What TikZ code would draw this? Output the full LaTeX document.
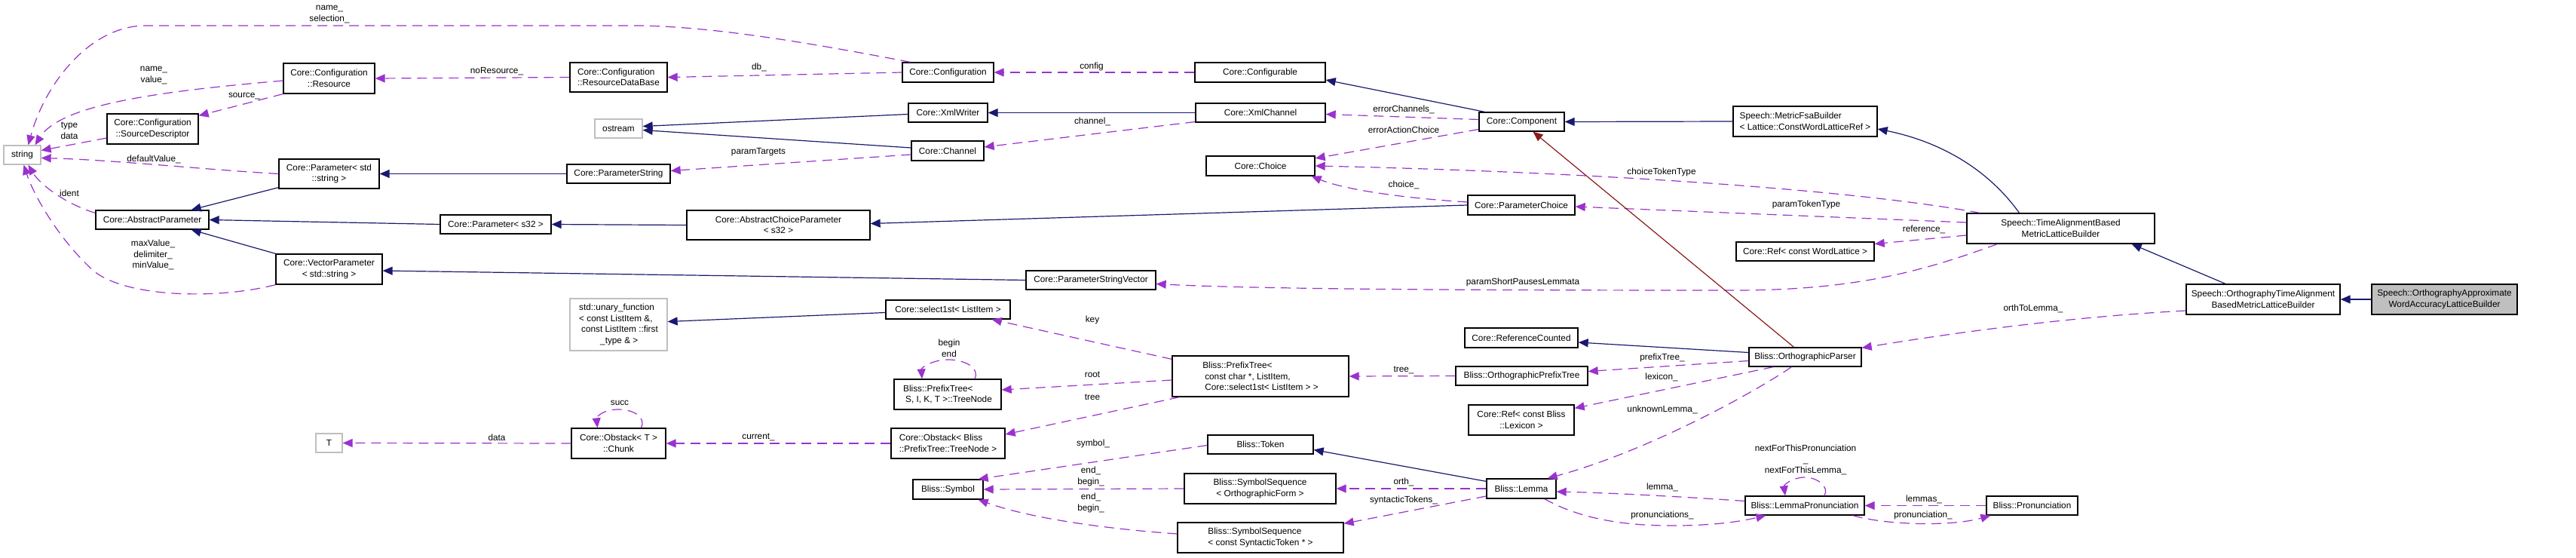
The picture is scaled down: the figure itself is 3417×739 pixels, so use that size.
\documentclass[tikz,border=0pt]{standalone}
\usepackage{fontspec}
\setmainfont{Liberation Sans}
\usetikzlibrary{arrows.meta,calc}
\definecolor{usecol}{HTML}{9A32CD}
\definecolor{inhcol}{HTML}{191970}
\definecolor{privcol}{HTML}{8B1A1A}
\definecolor{extcol}{HTML}{BFBFBF}

\begin{document}
\begin{tikzpicture}[x=1pt, y=-1pt,
  every node/.style={font=\fontsize{11.8}{14.5}\selectfont},
  cls/.style={draw=black, line width=1.3pt, fill=white, inner sep=1pt,
              minimum height=25pt, align=center},
  ext/.style={cls, draw=extcol},
  cur/.style={cls, fill=extcol},
  lbl/.style={inner sep=0pt, align=center},
  usage/.style={usecol, line width=1.2pt, dash pattern=on 13pt off 8pt,
                -{Triangle[length=13pt,width=11pt]}},
  inh/.style={inhcol, line width=1.2pt, -{Triangle[length=13pt,width=11pt]}},
  priv/.style={privcol, line width=1.2pt, -{Triangle[length=13pt,width=11pt]}}
]
  \useasboundingbox (0,0) rectangle (3417,739);

  % classes
  \node[ext, minimum width=49pt] (str) at (29.5,205.5) {string};
  \node[cls, minimum width=121pt, minimum height=40pt] (res) at (436.5,104) {Core::Configuration\\::Resource};
  \node[cls, minimum width=121pt, minimum height=40pt] (srcd) at (202.5,171) {Core::Configuration\\::SourceDescriptor};
  \node[cls, minimum width=133pt, minimum height=39pt] (pstd) at (436.5,230.5) {Core::Parameter< std\\::string >};
  \node[cls, minimum width=150pt] (absp) at (202,291.5) {Core::AbstractParameter};
  \node[cls, minimum width=141pt, minimum height=40pt] (vecp) at (436.5,357) {Core::VectorParameter\\< std::string >};
  \node[ext, minimum width=35pt] (tpar) at (436.5,587.5) {T};
  \node[cls, minimum width=129pt, minimum height=39pt, align=left] (rdb) at (820.5,102.5) {Core::Configuration\\::ResourceDataBase};
  \node[ext, minimum width=63pt] (ostr) at (820.5,170.5) {ostream};
  \node[cls, minimum width=137pt] (pstr) at (820.5,230.5) {Core::ParameterString};
  \node[cls, minimum width=147pt] (ps32) at (657.5,297.5) {Core::Parameter< s32 >};
  \node[cls, minimum width=243pt, minimum height=39pt] (acp) at (1032.5,298.5) {Core::AbstractChoiceParameter\\< s32 >};
  \node[ext, minimum width=129pt, minimum height=69pt, align=left] (unary) at (820.5,430.5) {std::unary\_function\\< const ListItem \&,\\\hspace*{3pt}const ListItem ::first\\\hspace*{28pt}\_type \& >};
  \node[cls, minimum width=125pt, minimum height=40pt] (chunk) at (820.5,588) {Core::Obstack< T >\\::Chunk};
  \node[cls, minimum width=121pt, minimum height=26pt] (conf) at (1257.5,96) {Core::Configuration};
  \node[cls, minimum width=105pt] (xmlw) at (1257.5,149.5) {Core::XmlWriter};
  \node[cls, minimum width=96pt, minimum height=26pt] (chan) at (1257,200) {Core::Channel};
  \node[cls, minimum width=173pt, minimum height=26pt] (cfgbl) at (1671.5,96) {Core::Configurable};
  \node[cls, minimum width=172pt] (xch) at (1672,149.5) {Core::XmlChannel};
  \node[cls, minimum width=144pt, minimum height=26pt] (choice) at (1672,220) {Core::Choice};
  \node[cls, minimum width=172pt] (psv) at (1447,371.5) {Core::ParameterStringVector};
  \node[cls, minimum width=165pt] (sel) at (1257.5,410.5) {Core::select1st< ListItem >};
  \node[cls, minimum width=142pt, minimum height=40pt, align=left] (tnode) at (1257,523) {Bliss::PrefixTree<\\\hspace*{3pt}S, I, K, T >::TreeNode};
  \node[cls, minimum width=151pt, minimum height=40pt, align=left] (obtn) at (1257.5,588) {Core::Obstack< Bliss\\::PrefixTree::TreeNode >};
  \node[cls, minimum width=93pt, minimum height=26pt] (sym) at (1257.5,649) {Bliss::Symbol};
  \node[cls, minimum width=234pt, minimum height=54pt, align=left] (ptree) at (1672,499) {Bliss::PrefixTree<\\\hspace*{3pt}const char *, ListItem,\\\hspace*{3pt}Core::select1st< ListItem > >};
  \node[cls, minimum width=140pt] (token) at (1672,589.5) {Bliss::Token};
  \node[cls, minimum width=201pt, minimum height=40pt] (ssorth) at (1671.5,648) {Bliss::SymbolSequence\\< OrthographicForm >};
  \node[cls, minimum width=220pt, minimum height=40pt, align=left] (sssyn) at (1672,713) {Bliss::SymbolSequence\\< const SyntacticToken * >};
  \node[cls, minimum width=113pt] (comp) at (2018.5,161.5) {Core::Component};
  \node[cls, minimum width=142pt, minimum height=26pt] (pchoice) at (2018,272) {Core::ParameterChoice};
  \node[cls, minimum width=150pt, minimum height=26pt] (refc) at (2018,448) {Core::ReferenceCounted};
  \node[cls, minimum width=175pt] (optree) at (2018.5,498.5) {Bliss::OrthographicPrefixTree};
  \node[cls, minimum width=140pt, minimum height=40pt] (lexref) at (2018,557) {Core::Ref< const Bliss\\::Lexicon >};
  \node[cls, minimum width=92pt, minimum height=26pt] (lemma) at (2018,648) {Bliss::Lemma};
  \node[cls, minimum width=191pt, minimum height=40pt, align=left] (mfb) at (2394.5,161) {Speech::MetricFsaBuilder\\< Lattice::ConstWordLatticeRef >};
  \node[cls, minimum width=249pt, minimum height=40pt] (tab) at (2733.5,303) {Speech::TimeAlignmentBased\\MetricLatticeBuilder};
  \node[cls, minimum width=183pt] (wlref) at (2394.5,333.5) {Core::Ref< const WordLattice >};
  \node[cls, minimum width=149pt] (oparser) at (2394.5,473.5) {Bliss::OrthographicParser};
  \node[cls, minimum width=158pt] (lpron) at (2394,670.5) {Bliss::LemmaPronunciation};
  \node[cls, minimum width=121pt] (pron) at (2695.5,670.5) {Bliss::Pronunciation};
  \node[cls, minimum width=204pt, minimum height=40pt] (otab) at (3002,397) {Speech::OrthographyTimeAlignment\\BasedMetricLatticeBuilder};
  \node[cur, minimum width=193pt, minimum height=40pt] (otaw) at (3242.5,397) {Speech::OrthographyApproximate\\WordAccuracyLatticeBuilder};

  % member labels
  \node[lbl] (lNameSel) at (437,19) {name\_\\selection\_};
  \node[lbl] (lNameVal) at (204,100) {name\_\\value\_};
  \node[lbl] (lSource) at (324,127) {source\_};
  \node[lbl] (lTypeData) at (92,173) {type\\data};
  \node[lbl] (lDefault) at (204,211) {defaultValue\_};
  \node[lbl] (lIdent) at (92,256) {ident};
  \node[lbl] (lMinMax) at (203,338) {maxValue\_\\delimiter\_\\minValue\_};
  \node[lbl] (lNoRes) at (659,95) {noResource\_};
  \node[lbl] (lDb) at (1007,89) {db\_};
  \node[lbl] (lConfig) at (1448,88) {config};
  \node[lbl] (lChannel) at (1449,161) {channel\_};
  \node[lbl] (lTargets) at (1006,202) {paramTargets};
  \node[lbl] (lErrCh) at (1862,145) {errorChannels\_};
  \node[lbl] (lErrAct) at (1862,172) {errorActionChoice};
  \node[lbl] (lChoice) at (1862,245) {choice\_};
  \node[lbl] (lChTok) at (2204,228) {choiceTokenType};
  \node[lbl] (lParTok) at (2396,271) {paramTokenType};
  \node[lbl] (lRef) at (2552,304) {reference\_};
  \node[lbl] (lShort) at (2020,374) {paramShortPausesLemmata};
  \node[lbl] (lOrthLem) at (2697,409) {orthToLemma\_};
  \node[lbl] (lKey) at (1449,424) {key};
  \node[lbl] (lRoot) at (1449,497) {root};
  \node[lbl] (lTree) at (1449,527) {tree};
  \node[lbl] (lBegEnd) at (1259,462) {begin\\end};
  \node[lbl] (lCurrent) at (1006,580) {current\_};
  \node[lbl] (lData) at (659,580) {data};
  \node[lbl] (lSucc) at (822,534) {succ};
  \node[lbl] (lSymbol) at (1450,588) {symbol\_};
  \node[lbl] (lEndBegA) at (1447,632) {end\_\\begin\_};
  \node[lbl] (lEndBegB) at (1447,667) {end\_\\begin\_};
  \node[lbl] (lTreeB) at (1862,491) {tree\_};
  \node[lbl] (lPrefix) at (2205,474) {prefixTree\_};
  \node[lbl] (lLexicon) at (2204,500) {lexicon\_};
  \node[lbl] (lUnknown) at (2205,543) {unknownLemma\_};
  \node[lbl] (lOrth) at (1862,639) {orth\_};
  \node[lbl] (lSynt) at (1862,663) {syntacticTokens\_};
  \node[lbl] (lLemma) at (2205,646) {lemma\_};
  \node[lbl] (lProns) at (2205,683) {pronunciations\_};
  \node[lbl] (lNext) at (2395,610) {nextForThisPronunciation\\\_\\nextForThisLemma\_};
  \node[lbl] (lLemmas) at (2552,662) {lemmas\_};
  \node[lbl] (lPron) at (2551,683) {pronunciation\_};

  % usage relations
  \draw[usage] ($(conf.north west)+(11,0)$) .. controls (1100,62) and (960,36) .. (850,34)
     -- (193,34) .. controls (120,34) and (60,110) .. ($(str.north)+(8,0)$);
  \draw[usage] ($(res.west)+(0,3)$) .. controls (200,122) and (80,140) .. ($(str.north)+(17,0)$);
  \draw[usage] (res.south west) -- ($(srcd.north east)+(0,3)$);
  \draw[usage] ($(srcd.west)+(0,12)$) -- ($(str.east)+(0,-6)$);
  \draw[usage] (pstd.west) .. controls (260,224) and (150,212) .. ($(str.east)+(0,4)$);
  \draw[usage] ($(absp.west)+(0,-9)$) .. controls (80,268) and (50,240) .. ($(str.south)+(8,0)$);
  \draw[usage] (vecp.south west) .. controls (290,397) and (170,395) .. (125,360)
     .. controls (80,320) and (45,260) .. ($(str.south)+(2,0)$);
  \draw[usage] (rdb.west) -- (res.east);
  \draw[usage] (conf.west) -- (rdb.east);
  \draw[usage] (cfgbl.west) -- (conf.east);
  \draw[usage] ($(xch.west)+(0,12)$) -- ($(chan.east)+(0,-5)$);
  \draw[usage] ($(chan.west)+(0,5)$) -- ($(pstr.east)+(0,-4)$);
  \draw[usage] ($(comp.west)+(0,-3)$) -- ($(xch.east)+(0,2)$);
  \draw[usage] ($(comp.west)+(0,10)$) -- ($(choice.east)+(0,-10)$);
  \draw[usage] ($(pchoice.west)+(0,-4)$) .. controls (1850,262) and (1780,250) .. ($(choice.south east)+(-5,0)$);
  \draw[usage] ($(tab.north west)+(18,0)$) .. controls (2450,250) and (2100,228) .. (choice.east);
  \draw[usage] ($(tab.west)+(0,-8)$) -- ($(pchoice.east)+(0,2)$);
  \draw[usage] ($(tab.west)+(0,9)$) -- ($(wlref.east)+(0,-10)$);
  \draw[usage] ($(tab.south west)+(41,0)$) .. controls (2550,360) and (2460,385) .. (2300,385)
     .. controls (1900,385) and (1660,383) .. ($(psv.east)+(0,5)$);
  \draw[usage] ($(otab.west)+(0,15)$) .. controls (2750,420) and (2600,440) .. ($(oparser.north east)+(0,1)$);
  \draw[usage] ($(ptree.north west)+(0,5)$) -- ($(sel.south east)+(-25,0)$);
  \draw[usage] ($(ptree.west)+(0,5)$) -- ($(tnode.east)+(0,-6)$);
  \draw[usage] ($(ptree.south west)+(10,0)$) -- ($(obtn.east)+(0,-12)$);
  \draw[usage] ($(tnode.north)+(36,0)$) .. controls (1300,488) and (1280,477) .. (1258,477)
     .. controls (1236,477) and (1222,488) .. ($(tnode.north)+(-34,0)$);
  \draw[usage] (obtn.west) -- (chunk.east);
  \draw[usage] (chunk.west) -- (tpar.east);
  \draw[usage] ($(chunk.north)+(30,0)$) .. controls (857,555) and (843,543) .. (820,543)
     .. controls (800,543) and (791,553) .. ($(chunk.north)+(-28,0)$);
  \draw[usage] ($(token.west)+(0,1)$) -- ($(sym.north east)+(-7,0)$);
  \draw[usage] (ssorth.west) -- (sym.east);
  \draw[usage] ($(sssyn.west)+(0,-5)$) .. controls (1450,700) and (1360,685) .. ($(sym.south east)+(-7,0)$);
  \draw[usage] (optree.west) -- (ptree.east);
  \draw[usage] ($(oparser.west)+(0,5)$) -- ($(optree.east)+(0,-6)$);
  \draw[usage] ($(oparser.south west)+(33,0)$) -- ($(lexref.north east)+(0,5)$);
  \draw[usage] ($(oparser.south west)+(57,0)$) .. controls (2320,525) and (2180,600) .. ($(lemma.north east)+(-12,0)$);
  \draw[usage] (lemma.west) -- (ssorth.east);
  \draw[usage] ($(lemma.west)+(0,10)$) -- ($(sssyn.north east)+(0,2)$);
  \draw[usage] ($(lpron.west)+(0,-6)$) .. controls (2250,660) and (2150,654) .. ($(lemma.east)+(0,4)$);
  \draw[usage] ($(lemma.south east)+(-16,0)$) .. controls (2100,690) and (2160,698) .. (2230,697)
     .. controls (2285,696) and (2315,690) .. ($(lpron.south west)+(28,0)$);
  \draw[usage] ($(lpron.north)+(26,0)$) .. controls (2427,645) and (2410,633) .. (2394,633)
     .. controls (2378,633) and (2366,643) .. ($(lpron.north)+(-26,0)$);
  \draw[usage] (pron.west) -- (lpron.east);
  \draw[usage] ($(lpron.south east)+(-16,0)$) .. controls (2505,697) and (2590,698) .. ($(pron.south west)+(6,0)$);

  % inheritance
  \draw[inh] ($(pstd.south west)+(0,-2)$) -- ($(absp.north east)+(-24,0)$);
  \draw[inh] (ps32.west) -- (absp.east);
  \draw[inh] (vecp.north west) -- ($(absp.south east)+(-24,0)$);
  \draw[inh] (pstr.west) -- (pstd.east);
  \draw[inh] (acp.west) -- (ps32.east);
  \draw[inh] (psv.west) -- ($(vecp.east)+(0,2)$);
  \draw[inh] ($(xmlw.west)+(0,2)$) -- ($(ostr.east)+(0,-3)$);
  \draw[inh] ($(chan.west)+(0,-4)$) -- ($(ostr.east)+(0,2)$);
  \draw[inh] (xch.west) -- (xmlw.east);
  \draw[inh] ($(comp.north west)+(8,0)$) -- ($(cfgbl.east)+(0,10)$);
  \draw[inh] (pchoice.west) -- ($(acp.east)+(0,-2)$);
  \draw[inh] (mfb.west) -- (comp.east);
  \draw[inh] ($(tab.north)+(-55,0)$) .. controls (2630,215) and (2560,185) .. ($(mfb.east)+(0,10)$);
  \draw[inh] ($(otab.north)+(-50,0)$) -- ($(tab.south east)+(-31,0)$);
  \draw[inh] (otaw.west) -- (otab.east);
  \draw[inh] ($(sel.west)+(0,4)$) -- ($(unary.east)+(0,-4)$);
  \draw[inh] ($(oparser.west)+(0,-6)$) -- ($(refc.east)+(0,6)$);
  \draw[inh] ($(lemma.north west)+(0,4)$) -- ($(token.east)+(0,7)$);
  \draw[priv] ($(oparser.north)+(-15,0)$) -- ($(comp.south)+(15,0)$);
\end{tikzpicture}
\end{document}
